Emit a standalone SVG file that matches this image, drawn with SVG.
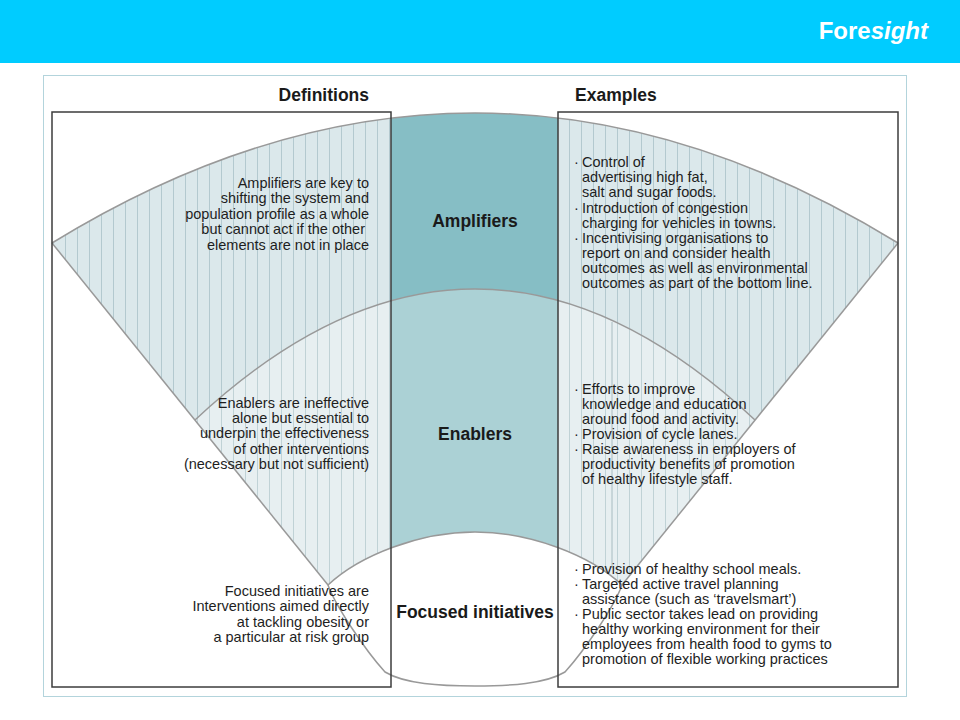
<svg xmlns="http://www.w3.org/2000/svg" width="960" height="720" viewBox="0 0 960 720">
<style>
.t{font-family:"Liberation Sans",Arial,sans-serif;font-size:14.5px;fill:#1e1e1e}
.r{text-anchor:end}
.h{font-family:"Liberation Sans",Arial,sans-serif;font-size:17.5px;font-weight:bold;fill:#1a1a1a}
.c{text-anchor:middle}
.edge{fill:none;stroke:#999;stroke-width:1.5}
.box{fill:none;stroke:#3c3c3c;stroke-width:1.5}
</style>
<defs>
<pattern id="hatchA" patternUnits="userSpaceOnUse" x="0" y="0" width="12" height="10">
<rect width="12" height="10" fill="#dbe8eb"/>
<line x1="5.5" y1="0" x2="5.5" y2="10" stroke="#b3c9cf" stroke-width="1"/>
</pattern>
<pattern id="hatchB" patternUnits="userSpaceOnUse" x="0" y="0" width="12" height="10">
<rect width="12" height="10" fill="#e7eff1"/>
<line x1="5.5" y1="0" x2="5.5" y2="10" stroke="#c0d2d6" stroke-width="1"/>
</pattern>
<clipPath id="col"><rect x="391" y="100" width="167" height="600"/></clipPath>
<path id="fan" d="M52,243 Q475,-17 898,243 L622,585 L475,620 L328,585 Z"/>
<path id="ena" d="M195,420 Q475,158 755,420 L622,585 L475,620 L328,585 Z"/>
<path id="ell" d="M328,585 C360,555 420,532 475,532 C530,532 590,555 622,585 C615,605 585,650 565,672 C545,684 510,686 475,686 C440,686 405,684 385,672 C365,650 335,605 328,585 Z"/>
</defs>
<rect width="960" height="720" fill="#ffffff"/>
<g id="header">
<rect x="0" y="0" width="960" height="63" fill="#00ccff"/>
<text x="928" y="39" font-family="Liberation Sans,Arial,sans-serif" font-size="24" font-weight="bold" fill="#ffffff" text-anchor="end">Fore<tspan font-style="italic">sight</tspan></text>
</g>
<rect id="frame" x="43.5" y="75.5" width="863" height="621" fill="none" stroke="#b3d4dc" stroke-width="1"/>
<g id="amplifiers-zone">
<use href="#fan" fill="url(#hatchA)"/>
<use href="#fan" fill="#86bec5" clip-path="url(#col)"/>
</g>
<g id="enablers-zone">
<use href="#ena" fill="url(#hatchB)"/>
<use href="#ena" fill="#abd1d5" clip-path="url(#col)"/>
<line x1="612" y1="322" x2="612" y2="568" stroke="#a8bcc1" stroke-width="1"/>
</g>
<g id="focused-zone">
<use href="#ell" fill="#ffffff"/>
</g>
<g id="connectors">
<path class="edge" d="M52,243 Q475,-17 898,243"/>
<path class="edge" d="M52,243 L328,585"/>
<path class="edge" d="M898,243 L622,585"/>
<path class="edge" d="M195,420 Q475,158 755,420"/>
<use href="#ell" class="edge"/>
</g>
<g id="boxes">
<rect class="box" x="52" y="112" width="339" height="575"/>
<rect class="box" x="558" y="112" width="340" height="575"/>
</g>
<g id="headings">
<text class="h r" x="369" y="101">Definitions</text>
<text class="h" x="575" y="101">Examples</text>
</g>
<g id="amplifiers">
<text class="h c" x="475" y="227">Amplifiers</text>
<text class="t r" x="369" y="188">Amplifiers are key to</text>
<text class="t r" x="369" y="203">shifting the system and</text>
<text class="t r" x="369" y="219">population profile as a whole</text>
<text class="t r" x="365" y="234">but cannot act if the other</text>
<text class="t r" x="369" y="250">elements are not in place</text>
<text class="t" x="574" y="167">·</text><text class="t" x="582" y="167">Control of</text>
<text class="t" x="582" y="182">advertising high fat,</text>
<text class="t" x="582" y="197">salt and sugar foods.</text>
<text class="t" x="574" y="213">·</text><text class="t" x="582" y="213">Introduction of congestion</text>
<text class="t" x="582" y="228">charging for vehicles in towns.</text>
<text class="t" x="574" y="243">·</text><text class="t" x="582" y="243">Incentivising organisations to</text>
<text class="t" x="582" y="258">report on and consider health</text>
<text class="t" x="582" y="273">outcomes as well as environmental</text>
<text class="t" x="582" y="288">outcomes as part of the bottom line.</text>
</g>
<g id="enablers">
<text class="h c" x="475" y="440">Enablers</text>
<text class="t r" x="369" y="408">Enablers are ineffective</text>
<text class="t r" x="369" y="423">alone but essential to</text>
<text class="t r" x="369" y="438">underpin the effectiveness</text>
<text class="t r" x="369" y="454">of other interventions</text>
<text class="t r" x="369" y="469">(necessary but not sufficient)</text>
<text class="t" x="574" y="394">·</text><text class="t" x="582" y="394">Efforts to improve</text>
<text class="t" x="582" y="409">knowledge and education</text>
<text class="t" x="582" y="424">around food and activity.</text>
<text class="t" x="574" y="439">·</text><text class="t" x="582" y="439">Provision of cycle lanes.</text>
<text class="t" x="574" y="454">·</text><text class="t" x="582" y="454">Raise awareness in employers of</text>
<text class="t" x="582" y="469">productivity benefits of promotion</text>
<text class="t" x="582" y="484">of healthy lifestyle staff.</text>
</g>
<g id="focused-initiatives">
<text class="h c" x="475" y="618">Focused initiatives</text>
<text class="t r" x="369" y="596">Focused initiatives are</text>
<text class="t r" x="369" y="611">Interventions aimed directly</text>
<text class="t r" x="369" y="627">at tackling obesity or</text>
<text class="t r" x="369" y="642">a particular at risk group</text>
<text class="t" x="574" y="574">·</text><text class="t" x="582" y="574">Provision of healthy school meals.</text>
<text class="t" x="574" y="589">·</text><text class="t" x="582" y="589">Targeted active travel planning</text>
<text class="t" x="582" y="604">assistance (such as ‘travelsmart’)</text>
<text class="t" x="574" y="619">·</text><text class="t" x="582" y="619">Public sector takes lead on providing</text>
<text class="t" x="582" y="634">healthy working environment for their</text>
<text class="t" x="582" y="649">employees from health food to gyms to</text>
<text class="t" x="582" y="664">promotion of flexible working practices</text>
</g>
</svg>
